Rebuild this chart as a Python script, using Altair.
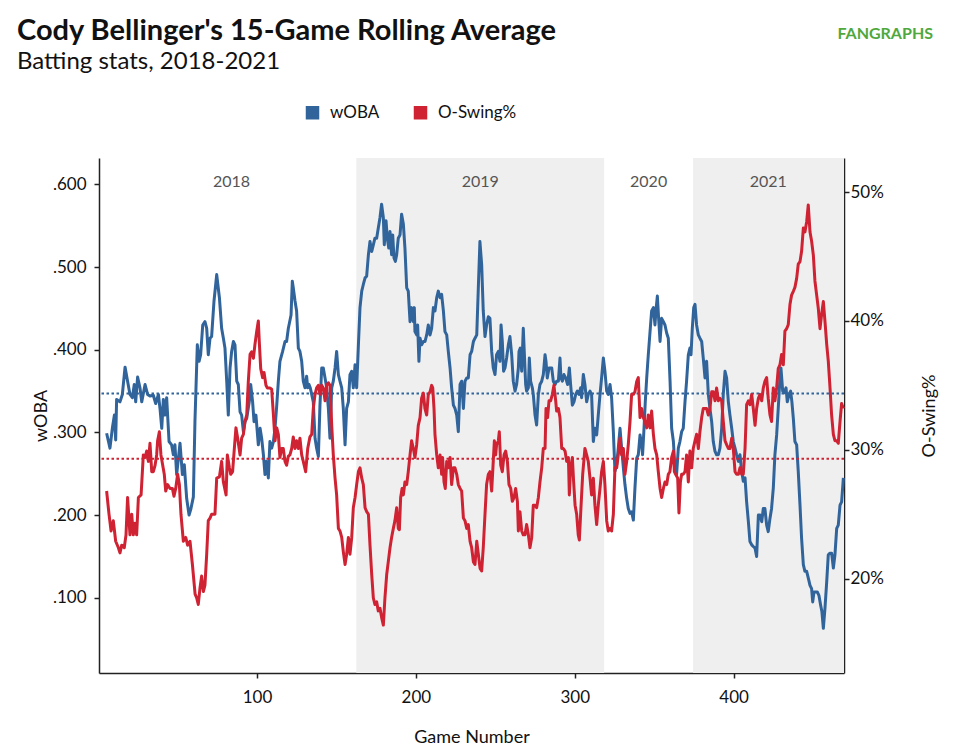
import altair as alt
import pandas as pd

# ---------------- data ----------------
woba_game = [5.3, 7.4, 8.9, 10.2, 11.0, 11.6, 13.7, 15.2, 16.9, 18.5, 20.0, 21.5, 22.7, 23.6, 24.8, 26.3, 27.4, 29.5, 31.1, 32.6,
             34.7, 36.2, 37.9, 38.9, 40.0, 41.0, 42.0, 43.1, 44.6, 46.2, 47.3, 48.3, 49.4, 51.5, 53.0, 54.2, 55.7, 57.2, 58.4, 59.9,
             60.9, 62.4, 63.5, 64.5, 65.8, 67.2, 68.3, 69.3, 70.4, 71.4, 72.9, 74.6, 76.3, 77.7, 78.8, 79.8, 80.9, 81.9, 83.0, 84.0,
             85.1, 86.1, 87.2, 88.2, 89.3, 90.3, 91.4, 92.4, 93.5, 95.1, 96.0, 97.2, 98.1, 99.3, 100.8, 101.9, 102.9, 104.0, 105.0, 106.0,
             107.1, 108.1, 109.2, 110.3, 111.3, 112.4, 113.4, 114.4, 116.1, 117.6, 118.6, 119.7, 121.4, 122.2, 122.8, 123.9, 124.9, 126.0, 127.0, 128.1,
             129.1, 130.2, 131.2, 131.9, 132.7, 133.5, 134.4, 135.4, 136.5, 137.5, 138.6, 139.6, 140.7, 141.7, 142.8, 143.8, 144.9, 145.9, 147.0, 148.0,
             149.1, 150.1, 151.2, 152.2, 153.3, 154.3, 155.4, 156.4, 157.5, 158.5, 159.6, 160.6, 161.7, 162.7, 163.8, 164.8, 165.9, 166.9, 168.0, 169.0,
             170.1, 171.1, 172.2, 173.2, 174.2, 175.3, 176.3, 177.4, 178.4, 179.5, 180.1, 181.2, 182.0, 182.9, 183.7, 184.7, 185.4, 186.2, 187.1, 187.9,
             188.9, 190.0, 191.0, 192.1, 193.1, 194.2, 195.2, 196.3, 197.3, 198.4, 199.0, 199.4, 200.5, 201.1, 201.9, 202.6, 203.6, 204.7, 205.7, 206.8,
             207.8, 208.9, 209.9, 211.0, 212.0, 213.1, 214.1, 215.2, 216.2, 217.3, 218.3, 219.4, 220.4, 221.5, 222.5, 223.6, 224.6, 225.7, 226.7, 227.8,
             228.8, 229.9, 230.9, 232.0, 233.0, 234.1, 235.1, 236.2, 237.2, 238.3, 239.3, 240.3, 241.4, 242.4, 243.5, 244.5, 245.6, 246.6, 247.7, 248.7,
             249.8, 250.8, 251.9, 252.9, 253.6, 254.4, 255.2, 256.1, 257.1, 258.2, 259.2, 260.3, 261.3, 262.4, 263.4, 264.5, 264.9, 265.7, 266.6, 267.6,
             268.3, 269.1, 269.7, 270.8, 271.4, 272.2, 273.3, 273.9, 275.0, 276.0, 277.1, 278.1, 279.2, 280.2, 281.3, 281.9, 282.7, 283.8, 284.6, 285.5,
             286.5, 287.6, 288.6, 289.7, 290.7, 291.3, 292.2, 293.2, 294.3, 295.5, 296.6, 297.4, 298.5, 299.5, 300.6, 301.6, 302.7, 303.7, 304.3, 305.4,
             306.4, 307.5, 308.5, 309.6, 310.6, 311.7, 312.7, 313.8, 314.8, 315.9, 316.9, 318.0, 319.0, 320.1, 321.1, 322.2, 323.2, 324.3, 325.3, 326.4,
             327.4, 328.5, 329.5, 330.6, 331.6, 332.7, 333.7, 334.8, 335.8, 336.9, 337.9, 339.0, 340.0, 341.1, 342.1, 342.7, 343.6, 344.4, 345.3, 346.3,
             347.4, 348.4, 349.5, 350.5, 351.1, 352.0, 352.8, 353.7, 354.7, 355.8, 356.8, 357.9, 358.9, 360.0, 361.0, 362.1, 363.1, 364.1, 365.2, 366.2,
             367.3, 368.3, 369.4, 370.4, 371.5, 372.5, 373.2, 374.0, 374.9, 375.7, 376.7, 377.8, 378.8, 379.9, 380.9, 382.0, 383.0, 384.1, 385.1, 386.2,
             387.2, 388.3, 389.3, 390.4, 391.4, 392.5, 393.5, 394.6, 395.6, 396.7, 397.7, 398.8, 399.8, 400.9, 401.9, 403.0, 404.0, 405.1, 406.1, 407.2,
             408.2, 409.3, 410.3, 411.4, 412.4, 413.5, 414.5, 415.6, 416.6, 417.7, 418.7, 419.7, 420.8, 421.8, 422.9, 423.9, 425.0, 426.0, 427.1, 428.1,
             429.2, 429.8, 430.9, 431.9, 433.0, 433.8, 434.9, 435.9, 436.7, 437.6, 438.6, 439.7, 440.7, 441.8, 442.8, 443.9, 444.9, 446.0, 447.0, 448.1,
             449.1, 449.8, 450.6, 451.6, 452.7, 453.7, 454.8, 455.6, 456.5, 457.5, 458.6, 459.6, 460.7, 461.7, 462.8, 463.8, 464.9, 465.9, 467.0, 468.0,
             469.1]
woba = [.299, .281, .305, .321, .291, .340, .337, .346, .379, .362, .346, .342, .358, .337, .367, .354, .337, .358, .346, .344,
        .345, .335, .346, .329, .305, .340, .321, .342, .289, .285, .273, .285, .249, .287, .249, .261, .220, .200, .208, .222,
        .313, .406, .386, .394, .430, .434, .426, .394, .414, .416, .459, .491, .463, .426, .414, .402, .362, .321, .378, .398,
        .410, .406, .362, .358, .325, .321, .301, .313, .317, .337, .358, .337, .313, .321, .285, .305, .293, .273, .249, .265,
        .245, .289, .281, .289, .305, .333, .362, .386, .398, .410, .410, .426, .442, .483, .475, .459, .447, .402, .398, .386,
        .362, .354, .368, .354, .358, .354, .346, .337, .293, .281, .271, .333, .378, .378, .366, .354, .329, .293, .354, .362,
        .378, .398, .370, .362, .354, .329, .285, .329, .337, .370, .374, .354, .382, .354, .406, .451, .471, .479, .487, .489,
        .515, .531, .519, .527, .535, .535, .547, .560, .576, .560, .527, .556, .535, .523, .543, .515, .539, .511, .507, .515,
        .535, .539, .564, .552, .523, .475, .471, .434, .451, .434, .451, .422, .418, .430, .386, .414, .406, .410, .410, .418,
        .430, .418, .426, .451, .447, .463, .471, .463, .467, .447, .422, .418, .398, .378, .354, .333, .329, .321, .301, .358,
        .362, .329, .362, .366, .366, .394, .398, .410, .414, .418, .475, .531, .503, .447, .416, .430, .440, .438, .398, .378,
        .370, .394, .398, .386, .430, .410, .374, .378, .390, .406, .416, .394, .362, .350, .358, .378, .398, .402, .374, .426,
        .394, .358, .350, .354, .390, .362, .354, .346, .321, .309, .346, .358, .362, .370, .394, .386, .366, .378, .378, .378,
        .362, .358, .362, .362, .390, .366, .362, .370, .366, .358, .378, .358, .333, .337, .346, .350, .346, .354, .342, .370,
        .358, .337, .346, .350, .346, .289, .305, .297, .321, .346, .366, .390, .374, .350, .346, .358, .342, .301, .253, .261,
        .281, .305, .281, .257, .237, .220, .208, .202, .204, .194, .233, .269, .273, .297, .285, .273, .305, .337, .366, .394,
        .422, .447, .451, .430, .447, .465, .438, .410, .438, .434, .430, .420, .414, .362, .305, .289, .257, .249, .281, .289,
        .301, .305, .337, .362, .394, .402, .394, .426, .451, .455, .430, .418, .414, .410, .390, .366, .386, .346, .329, .313,
        .289, .277, .273, .273, .281, .305, .346, .374, .366, .337, .321, .305, .289, .281, .273, .265, .273, .253, .241, .245,
        .216, .192, .168, .164, .162, .160, .150, .200, .200, .192, .208, .208, .188, .180, .196, .208, .233, .273, .297, .329,
        .366, .378, .350, .348, .354, .337, .346, .350, .337, .317, .289, .285, .253, .212, .172, .140, .132, .132, .124, .115,
        .111, .095, .107, .107, .107, .103, .091, .083, .063, .087, .119, .152, .154, .154, .136, .152, .184, .188, .212, .216,
        .245]

oswing_game = [5.3, 6.8, 8.1, 9.5, 11.0, 12.7, 13.7, 14.8, 16.4, 17.5, 18.5, 20.0, 21.1, 22.1, 23.2, 24.2, 25.3, 27.0, 28.4, 29.5,
               30.5, 31.6, 32.6, 33.7, 34.7, 35.8, 36.8, 37.4, 38.5, 39.5, 40.6, 41.6, 42.5, 43.7, 45.2, 46.7, 47.7, 48.8, 50.0, 51.1,
               52.1, 53.6, 55.1, 56.3, 57.8, 59.3, 61.0, 62.0, 63.0, 64.1, 65.1, 66.2, 67.2, 68.3, 69.3, 70.4, 71.4, 73.5, 74.6, 76.3,
               77.7, 78.8, 80.5, 81.3, 82.6, 83.4, 84.6, 85.7, 86.7, 87.8, 89.3, 90.3, 91.4, 92.4, 93.5, 94.5, 95.6, 96.6, 97.7, 98.7,
               99.8, 100.8, 101.4, 102.3, 103.5, 104.4, 105.6, 106.5, 108.1, 109.2, 110.3, 111.3, 112.4, 113.4, 114.4, 115.5, 116.5, 117.6, 118.6, 119.7,
               120.7, 121.8, 122.8, 123.9, 124.9, 126.0, 127.0, 128.1, 129.1, 130.6, 131.9, 133.3, 134.4, 135.4, 136.5, 137.5, 138.6, 139.6, 140.7, 141.7,
               142.8, 143.8, 144.9, 145.9, 147.0, 148.0, 149.1, 150.1, 151.2, 152.2, 153.3, 154.3, 155.4, 156.4, 157.5, 158.5, 159.6, 160.6, 161.7, 162.7,
               163.8, 164.8, 165.9, 166.9, 168.0, 169.0, 170.1, 171.1, 172.2, 173.2, 174.2, 175.3, 176.3, 177.4, 178.4, 179.5, 180.5, 181.6, 182.6, 183.7,
               184.7, 185.8, 186.8, 187.9, 188.9, 189.6, 190.4, 191.3, 192.1, 193.1, 194.2, 195.2, 196.3, 197.3, 198.4, 199.4, 200.5, 201.5, 202.6, 203.6,
               204.7, 205.7, 206.8, 207.8, 208.9, 209.9, 210.6, 211.4, 212.0, 213.1, 214.1, 215.2, 216.2, 216.8, 217.7, 218.5, 219.4, 220.4, 221.5, 222.5,
               223.6, 224.6, 225.7, 226.7, 227.8, 228.8, 229.9, 230.9, 232.0, 233.0, 234.1, 235.1, 236.2, 237.2, 238.3, 239.3, 240.4, 241.4, 242.4, 243.5,
               244.5, 245.6, 246.6, 247.7, 248.7, 249.4, 250.2, 250.8, 251.9, 252.5, 253.4, 254.4, 255.5, 256.5, 257.6, 258.6, 259.7, 260.7, 261.8, 262.8,
               263.9, 264.5, 265.5, 266.6, 267.6, 268.7, 269.7, 270.8, 271.8, 272.9, 273.9, 275.0, 276.0, 277.1, 278.1, 279.2, 280.2, 281.3, 281.9, 282.9,
               283.8, 284.8, 285.9, 286.9, 288.0, 288.6, 289.7, 290.7, 291.8, 292.8, 293.9, 294.9, 296.0, 296.6, 297.4, 298.5, 299.3, 300.2, 301.2, 302.2,
               302.9, 303.9, 305.0, 306.4, 307.5, 308.5, 309.6, 310.6, 311.7, 312.7, 313.8, 314.8, 315.9, 316.9, 318.0, 319.0, 320.1, 321.1, 322.2, 323.2,
               324.3, 325.3, 326.4, 327.4, 328.5, 329.5, 330.6, 331.6, 332.7, 333.7, 334.8, 335.8, 336.9, 337.9, 339.0, 340.0, 341.1, 342.1, 343.2, 344.2,
               345.3, 346.3, 347.4, 348.4, 349.5, 350.5, 351.6, 352.6, 353.7, 354.7, 355.8, 356.8, 357.9, 358.9, 359.9, 361.0, 362.1, 362.7, 363.5, 364.8,
               365.6, 366.5, 367.3, 368.3, 369.4, 370.4, 371.5, 372.5, 373.6, 374.6, 375.7, 376.7, 377.8, 378.8, 379.9, 380.9, 382.0, 383.0, 384.1, 385.1,
               386.2, 387.2, 388.3, 389.3, 390.4, 391.4, 392.5, 393.5, 394.6, 395.6, 396.7, 397.7, 398.8, 399.8, 400.9, 401.9, 403.0, 404.0, 405.1, 406.1,
               407.2, 408.2, 409.3, 410.3, 411.4, 412.4, 413.5, 414.5, 415.6, 416.6, 417.7, 418.7, 419.7, 420.8, 421.8, 422.9, 423.9, 425.0, 426.0, 427.1,
               428.1, 429.2, 430.2, 431.3, 432.3, 433.4, 434.4, 435.5, 436.5, 437.6, 438.6, 439.7, 440.7, 441.8, 442.8, 443.9, 444.9, 446.0, 447.0, 448.1,
               449.1, 450.2, 451.2, 452.3, 453.3, 454.4, 455.4, 456.5, 457.5, 458.6, 459.6, 460.7, 461.7, 462.8, 463.8, 464.9, 465.9, 467.0, 468.0, 469.1]
oswing = [26.8, 25.0, 23.7, 24.5, 22.9, 22.4, 22.0, 22.6, 22.4, 23.4, 26.3, 23.4, 25.0, 23.4, 24.3, 23.4, 26.3, 26.5, 29.6, 29.4,
          29.9, 29.1, 30.5, 28.3, 28.3, 28.8, 29.6, 30.7, 31.4, 29.6, 28.8, 28.1, 26.8, 27.3, 27.0, 27.0, 26.4, 27.0, 28.1, 27.3,
          25.0, 22.9, 23.2, 22.6, 22.9, 21.1, 18.8, 18.5, 18.0, 19.3, 20.2, 19.0, 19.5, 21.9, 24.5, 24.7, 25.0, 25.0, 27.8, 27.9,
          29.1, 27.5, 26.5, 29.6, 28.6, 28.1, 28.3, 30.1, 31.7, 30.9, 29.6, 30.9, 31.2, 32.2, 32.7, 35.3, 37.4, 37.6, 37.1, 38.2,
          39.2, 40.0, 38.4, 36.3, 35.6, 36.0, 35.0, 34.8, 34.8, 34.7, 32.7, 30.7, 31.7, 31.2, 29.4, 30.1, 30.1, 29.1, 28.8, 29.5,
          29.6, 30.1, 31.0, 30.1, 30.7, 30.1, 30.9, 29.6, 29.1, 28.3, 30.1, 31.0, 31.2, 33.2, 34.3, 34.8, 35.0, 34.3, 35.0, 34.8,
          33.8, 35.0, 35.2, 35.0, 31.9, 29.6, 27.8, 26.5, 23.9, 23.7, 23.2, 22.1, 21.1, 21.9, 23.2, 21.9, 23.2, 25.5, 26.3, 27.3,
          28.3, 28.6, 27.8, 27.3, 25.5, 25.2, 25.0, 22.6, 20.3, 18.5, 18.0, 18.2, 17.5, 17.7, 17.0, 16.4, 18.5, 20.3, 21.3, 22.4,
          23.2, 23.9, 24.5, 25.5, 23.9, 23.8, 26.3, 27.0, 26.5, 27.5, 27.3, 28.3, 29.6, 30.7, 30.1, 29.4, 30.4, 31.9, 32.5, 34.0,
          34.4, 33.2, 32.7, 34.3, 34.5, 35.0, 34.8, 33.2, 31.2, 29.6, 28.6, 29.6, 28.1, 29.4, 27.5, 27.0, 29.1, 28.6, 29.4, 27.3,
          28.6, 28.6, 28.1, 27.3, 27.0, 26.8, 24.7, 24.5, 23.9, 24.2, 22.9, 22.4, 21.3, 21.1, 22.9, 21.9, 20.8, 20.6, 22.4, 25.0,
          27.3, 28.1, 28.3, 26.8, 29.1, 30.7, 29.6, 30.4, 30.7, 31.4, 28.8, 28.3, 29.6, 29.9, 29.1, 27.3, 27.0, 26.0, 26.3, 27.0,
          26.0, 23.7, 25.2, 23.7, 23.4, 23.4, 24.2, 23.4, 22.4, 23.2, 25.7, 25.7, 25.5, 26.3, 27.5, 28.6, 30.1, 30.1, 33.2, 32.5,
          33.8, 33.8, 34.3, 35.0, 33.8, 33.0, 33.2, 32.5, 30.1, 30.1, 29.9, 29.1, 29.4, 26.5, 28.6, 29.4, 27.5, 25.7, 25.0, 23.4,
          23.0, 25.5, 28.1, 30.1, 29.6, 29.1, 27.8, 26.5, 27.8, 25.7, 24.2, 25.7, 27.0, 28.3, 29.1, 27.3, 24.5, 23.7, 23.9, 23.7,
          25.0, 28.6, 28.6, 29.6, 30.9, 29.6, 30.1, 28.1, 29.1, 30.4, 32.2, 34.3, 34.3, 34.5, 35.3, 35.6, 32.5, 33.2, 32.5, 32.2,
          31.7, 32.7, 31.7, 33.0, 31.2, 30.1, 29.6, 28.3, 27.0, 26.3, 27.0, 27.5, 27.3, 28.1, 28.3, 29.4, 29.9, 28.3, 28.1, 27.8,
          25.1, 27.5, 28.1, 28.1, 28.3, 29.6, 27.5, 29.9, 28.6, 30.1, 30.7, 31.2, 30.1, 31.4, 32.5, 33.2, 33.2, 33.2, 32.7, 33.2,
          34.5, 34.5, 33.8, 34.8, 33.8, 34.0, 33.8, 32.2, 30.7, 30.4, 30.1, 30.1, 30.9, 30.1, 28.3, 28.1, 28.1, 28.6, 28.1, 28.1,
          30.1, 33.5, 33.8, 33.5, 34.3, 33.2, 31.9, 33.2, 34.0, 34.3, 33.8, 34.8, 35.3, 35.6, 34.0, 32.7, 32.2, 34.8, 33.8, 34.8,
          36.3, 36.6, 37.4, 36.6, 39.2, 39.4, 39.7, 41.3, 42.0, 42.3, 42.6, 43.3, 44.4, 44.6, 45.4, 47.2, 46.9, 47.7, 49.0, 46.9,
          46.2, 45.1, 43.1, 42.0, 41.0, 39.4, 40.5, 41.5, 40.0, 38.2, 36.9, 34.8, 32.7, 31.2, 30.7, 30.7, 30.5, 32.2, 33.6, 33.2]

woba_avg = [0.347]
oswing_avg = [29.3]

season_names = ["2018", "2019", "2020", "2021"]
season_start = [0.5, 162.5, 318.5, 374.5]
season_end = [162.5, 318.5, 374.5, 469.5]
season_shaded = [False, True, False, True]

series_names = ["wOBA", "O-Swing%"]
title_text = "Cody Bellinger's 15-Game Rolling Average"
subtitle_text = "Batting stats, 2018-2021"
logo_text = "FANGRAPHS"

# ---------------- styling ----------------
BLUE = "#31649b"
RED = "#cf2233"
GREEN = "#4fa83d"
FONT = "Lato"
W, H = 745, 515

woba_df = pd.DataFrame({"game": woba_game, "value": woba})
osw_df = pd.DataFrame({"game": oswing_game, "value": oswing})
seasons = pd.DataFrame({"season": season_names, "start": season_start,
                        "end": season_end, "shaded": season_shaded})
# year label sits in the middle of the part of each season that carries data
first_game, last_game = min(woba_game), max(woba_game)
seasons["mid"] = (seasons["start"].clip(lower=first_game) +
                  seasons["end"].clip(upper=last_game)) / 2
legend_df = pd.DataFrame({"series": series_names, "game": [None, None]})

x_scale = alt.Scale(domain=[0.5, 469.5], nice=False, zero=False)
x_axis = alt.Axis(values=[100, 200, 300, 400], format="d", title="Game Number",
                  tickSize=5, labelPadding=11, titlePadding=23)

shade = alt.Chart(seasons[seasons["shaded"]]).mark_rect(color="#efefef").encode(
    x=alt.X("start:Q", scale=x_scale, axis=x_axis), x2="end:Q")

years = alt.Chart(seasons).mark_text(font=FONT, fontSize=16, color="#555555",
                                     baseline="middle").encode(
    x=alt.X("mid:Q", scale=x_scale, axis=x_axis), y=alt.value(24), text="season:N")

y_woba = alt.Scale(domain=[0.009, 0.632], nice=False, zero=False)
woba_axis = alt.Axis(orient="left", values=[0.1, 0.2, 0.3, 0.4, 0.5, 0.6],
                     labelExpr="substring(format(datum.value, '.3f'), 1)",
                     title="wOBA", tickSize=5, labelPadding=8, titlePadding=2)
woba_rule = alt.Chart(pd.DataFrame({"avg": woba_avg})).mark_rule(
    color=BLUE, strokeDash=[2.5, 2.5], strokeWidth=2).encode(
    y=alt.Y("avg:Q", scale=y_woba, axis=woba_axis))
woba_line = alt.Chart(woba_df).mark_line(color=BLUE, strokeWidth=3, strokeJoin="round").encode(
    x=alt.X("game:Q", scale=x_scale, axis=x_axis),
    y=alt.Y("value:Q", scale=y_woba, axis=woba_axis))
woba_layer = alt.layer(woba_rule, woba_line)

y_osw = alt.Scale(domain=[12.68, 52.64], nice=False, zero=False)
osw_axis = alt.Axis(orient="right", values=[20, 30, 40, 50],
                    labelExpr="format(datum.value, 'd') + '%'",
                    title="O-Swing%", titleAngle=270, tickSize=5, labelPadding=1, titlePadding=55)
osw_rule = alt.Chart(pd.DataFrame({"avg": oswing_avg})).mark_rule(
    color=RED, strokeDash=[2.5, 2.5], strokeWidth=2).encode(
    y=alt.Y("avg:Q", scale=y_osw, axis=osw_axis))
osw_line = alt.Chart(osw_df).mark_line(color=RED, strokeWidth=3, strokeJoin="round").encode(
    x=alt.X("game:Q", scale=x_scale, axis=x_axis),
    y=alt.Y("value:Q", scale=y_osw, axis=osw_axis))
osw_layer = alt.layer(osw_rule, osw_line)

legend_layer = alt.Chart(legend_df).mark_square(size=182, opacity=1, filled=True).encode(
    x=alt.X("game:Q", scale=x_scale, axis=x_axis),
    color=alt.Color("series:N",
                    scale=alt.Scale(domain=series_names, range=[BLUE, RED]),
                    legend=alt.Legend(orient="none", legendX=205, legendY=-54,
                                      direction="horizontal", title=None,
                                      symbolType="square", symbolSize=182,
                                      symbolStrokeWidth=0, symbolOpacity=1,
                                      labelFont=FONT, labelFontSize=17, labelColor="#111111",
                                      labelOffset=9, columnPadding=32, padding=0)))

title_mark = alt.Chart(pd.DataFrame({"t": [title_text]})).mark_text(
    font=FONT, fontSize=29, fontWeight="bold", color="#111111", align="left",
    baseline="alphabetic").encode(text="t:N", x=alt.value(-82), y=alt.value(-118))
subtitle_mark = alt.Chart(pd.DataFrame({"t": [subtitle_text]})).mark_text(
    font=FONT, fontSize=24, color="#111111", align="left",
    baseline="alphabetic").encode(text="t:N", x=alt.value(-82), y=alt.value(-89))
logo_mark = alt.Chart(pd.DataFrame({"t": [logo_text]})).mark_text(
    font=FONT, fontSize=16, fontWeight="bold", color=GREEN, align="right",
    baseline="alphabetic").encode(text="t:N", x=alt.value(834), y=alt.value(-119))

chart = alt.layer(shade, years, woba_layer, osw_layer, legend_layer,
                  title_mark, subtitle_mark, logo_mark).resolve_scale(
    y="independent").properties(
    width=W, height=H,
    autosize=alt.AutoSizeParams(type="none"),
    padding={"left": 99, "top": 158, "right": 110, "bottom": 80},
).configure_view(stroke=None).configure_axis(
    labelFont=FONT, titleFont=FONT, labelFontSize=17, titleFontSize=18,
    labelColor="#111111", titleColor="#111111", titleFontWeight="normal",
    domainColor="#222222", tickColor="#222222", domainWidth=1.5, tickWidth=1.5,
    grid=False)

chart.save("out.html", embed_options={"renderer": "svg", "actions": False})
